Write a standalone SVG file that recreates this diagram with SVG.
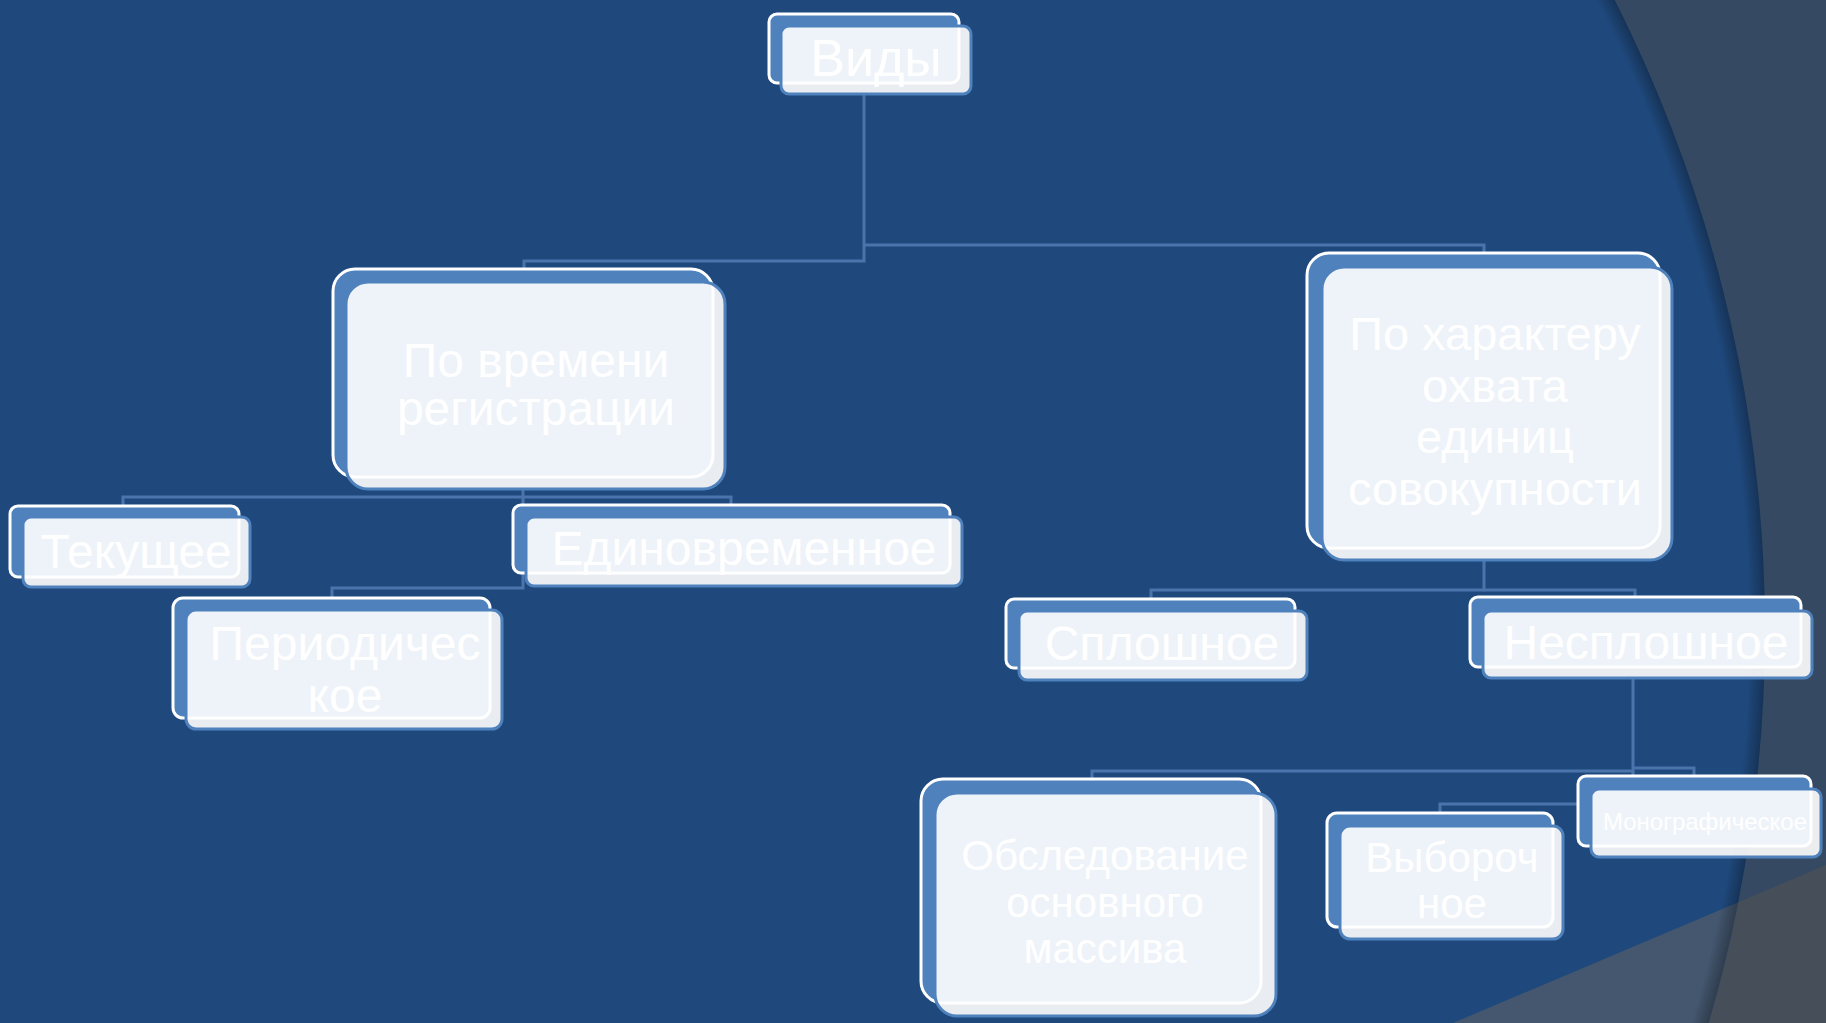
<svg xmlns="http://www.w3.org/2000/svg" width="1826" height="1023" viewBox="0 0 1826 1023">
<style>
.bk{fill:#4F81BD;stroke:#FFFFFF;stroke-width:3}
.fr{fill:#FFFFFF;fill-opacity:0.9;stroke:#4F81BD;stroke-width:3}
.t{fill:#FFFFFF;font-family:"Liberation Sans",Arial,sans-serif;text-anchor:middle}
.c{fill:none;stroke:#4A74AB;stroke-width:3}
</style>
<defs>
<clipPath id="circ"><circle cx="370" cy="630" r="1395"/></clipPath>
<radialGradient id="shade" gradientUnits="userSpaceOnUse" cx="370" cy="630" r="1395">
<stop offset="0.988" stop-color="#000000" stop-opacity="0"/>
<stop offset="1" stop-color="#000000" stop-opacity="0.3"/>
</radialGradient>
</defs>
<g id="background">
<rect x="0" y="0" width="1826" height="1023" fill="#354A62"/>
<polygon points="1453,1023 1826,865 1826,1023" fill="#464E59"/>
<circle cx="370" cy="630" r="1395" fill="#1F497D"/>
<polygon points="1453,1023 1826,865 1826,1023" fill="#44576F" clip-path="url(#circ)"/>
<circle cx="370" cy="630" r="1395" fill="url(#shade)"/>
</g>
<g id="connectors">
<path class="c" d="M864,94 V261 H524 V269"/>
<path class="c" d="M864,245 H1484 V253"/>
<path class="c" d="M523,489 V497 H123 V506"/>
<path class="c" d="M523,497 H731 V505"/>
<path class="c" d="M523,497 V588 H332 V598"/>
<path class="c" d="M1484,560 V590 H1151 V599"/>
<path class="c" d="M1484,590 H1635 V597"/>
<path class="c" d="M1633,678 V771 H1092 V779"/>
<path class="c" d="M1633,768 H1694 V776"/>
<path class="c" d="M1633,771 V804 H1440 V813"/>
</g>
<g id="node-vidy">
<rect class="bk" x="769" y="14" width="190" height="69" rx="8"/>
<rect class="fr" x="781" y="26" width="190" height="68" rx="8"/>
<text class="t" x="876" y="76" font-size="52">Виды</text>
</g>
<g id="node-po-vremeni">
<rect class="bk" x="333" y="269" width="380" height="208" rx="22"/>
<rect class="fr" x="346" y="282" width="379" height="207" rx="22"/>
<text class="t" x="536" y="377" font-size="48">По времени</text>
<text class="t" x="536" y="425" font-size="48">регистрации</text>
</g>
<g id="node-tekushchee">
<rect class="bk" x="10" y="506" width="229" height="71" rx="8"/>
<rect class="fr" x="23" y="517" width="227" height="70" rx="8"/>
<text class="t" x="136" y="568" font-size="48">Текущее</text>
</g>
<g id="node-edinovremennoe">
<rect class="bk" x="513" y="505" width="437" height="68" rx="8"/>
<rect class="fr" x="526" y="517" width="436" height="69" rx="8"/>
<text class="t" x="744" y="565" font-size="48">Единовременное</text>
</g>
<g id="node-periodicheskoe">
<rect class="bk" x="173" y="598" width="317" height="120" rx="10"/>
<rect class="fr" x="186" y="610" width="316" height="119" rx="10"/>
<text class="t" x="345" y="660" font-size="48">Периодичес</text>
<text class="t" x="345" y="712" font-size="48">кое</text>
</g>
<g id="node-po-harakteru">
<rect class="bk" x="1307" y="253" width="353" height="295" rx="22"/>
<rect class="fr" x="1322" y="267" width="350" height="293" rx="22"/>
<text class="t" x="1495" y="350" font-size="47">По характеру</text>
<text class="t" x="1495" y="402" font-size="47">охвата</text>
<text class="t" x="1495" y="453" font-size="47">единиц</text>
<text class="t" x="1495" y="505" font-size="47">совокупности</text>
</g>
<g id="node-sploshnoe">
<rect class="bk" x="1006" y="599" width="289" height="69" rx="8"/>
<rect class="fr" x="1019" y="611" width="288" height="69" rx="8"/>
<text class="t" x="1162" y="660" font-size="48">Сплошное</text>
</g>
<g id="node-nesploshnoe">
<rect class="bk" x="1470" y="597" width="331" height="70" rx="8"/>
<rect class="fr" x="1483" y="611" width="329" height="67" rx="8"/>
<text class="t" x="1646" y="659" font-size="48">Несплошное</text>
</g>
<g id="node-obsledovanie">
<rect class="bk" x="921" y="779" width="340" height="224" rx="22"/>
<rect class="fr" x="935" y="793" width="341" height="223" rx="22"/>
<text class="t" x="1105" y="870" font-size="42">Обследование</text>
<text class="t" x="1105" y="917" font-size="42">основного</text>
<text class="t" x="1105" y="963" font-size="42">массива</text>
</g>
<g id="node-vyborochnoe">
<rect class="bk" x="1327" y="813" width="226" height="114" rx="10"/>
<rect class="fr" x="1340" y="826" width="223" height="113" rx="10"/>
<text class="t" x="1452" y="872" font-size="42">Выбороч</text>
<text class="t" x="1452" y="918" font-size="42">ное</text>
</g>
<g id="node-monograficheskoe">
<rect class="bk" x="1578" y="776" width="233" height="70" rx="8"/>
<rect class="fr" x="1591" y="789" width="230" height="68" rx="8"/>
<text class="t" x="1705" y="830" font-size="24">Монографическое</text>
</g>
</svg>
